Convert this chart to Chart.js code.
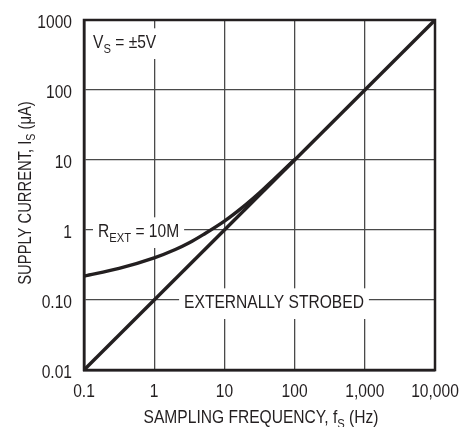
<!DOCTYPE html>
<html>
<head>
<meta charset="utf-8">
<script src="https://cdn.jsdelivr.net/npm/chart.js@4/dist/chart.umd.min.js"></script>
<style>
  html, body { margin: 0; padding: 0; background: #fff; }
  #wrap { width: 463px; height: 427px; }
</style>
</head>
<body>
<div id="wrap"><canvas id="c" width="463" height="427"></canvas></div>
<script>
// ---- data ----
const xTickValues = [0.1, 1, 10, 100, 1000, 10000];
const xTickLabels = ['0.1', '1', '10', '100', '1,000', '10,000'];
const yTickValues = [0.01, 0.1, 1, 10, 100, 1000];
const yTickLabels = ['0.01', '0.10', '1', '10', '100', '1000'];

const rextFreq    = [0.1, 0.316, 1, 2, 3.16, 5, 10, 20, 31.6, 50, 100];
const rextCurrent = [0.22, 0.283, 0.40, 0.527, 0.658, 0.86, 1.34, 2.29, 3.4, 5.24, 10.2];

const strobedFreq    = [0.1, 10000];
const strobedCurrent = [0.01, 1000];

const FONT = "'Liberation Sans', Arial, sans-serif";
const INK = '#231f20';
const SQUEEZE = 0.82;   // condensed look

function pts(xs, ys) { return xs.map((x, i) => ({ x: x, y: ys[i] })); }

// rich text (with subscripts), horizontally condensed
function richWidth(ctx, parts, size) {
  let w = 0;
  parts.forEach(p => {
    ctx.font = (p.sub ? size * 0.72 : size) + 'px ' + FONT;
    w += ctx.measureText(p.t).width;
  });
  return w * SQUEEZE;
}
function drawRich(ctx, parts, x, y, size) {
  ctx.save();
  ctx.translate(x, y);
  ctx.scale(SQUEEZE, 1);
  let cx = 0;
  parts.forEach(p => {
    ctx.font = (p.sub ? size * 0.72 : size) + 'px ' + FONT;
    ctx.fillText(p.t, cx, p.sub ? size * 0.24 : 0);
    cx += ctx.measureText(p.t).width;
  });
  ctx.restore();
}

const labelPlugin = {
  id: 'labels',
  beforeDatasetsDraw(chart) {
    const ctx = chart.ctx;
    const ys = chart.scales.y;
    ctx.save();
    ctx.textBaseline = 'alphabetic';
    ctx.textAlign = 'left';
    const size = 19;
    const cap = size * 0.72;
    const boxes = [
      { parts: [{ t: 'V' }, { t: 'S', sub: true }, { t: ' = \u00b15V' }], x: 93, base: 48 },
      { parts: [{ t: 'R' }, { t: 'EXT', sub: true }, { t: ' = 10M' }], x: 98, yv: 1, off: 7 },
      { parts: [{ t: 'EXTERNALLY STROBED' }], cx: 274, yv: 0.1, off: 8 }
    ];
    boxes.forEach(b => {
      const w = richWidth(ctx, b.parts, size);
      let x = b.x;
      if (b.cx !== undefined) x = b.cx - w / 2;
      let base = b.base;
      if (b.yv !== undefined) base = ys.getPixelForValue(b.yv) + b.off;
      ctx.fillStyle = '#fff';
      ctx.fillRect(x - 5, base - cap - 6, w + 10, cap + 17);
      ctx.fillStyle = INK;
      drawRich(ctx, b.parts, x, base, size);
    });
    ctx.restore();
  },
  afterDraw(chart) {
    const ctx = chart.ctx;
    const a = chart.chartArea;
    const xs = chart.scales.x, ys = chart.scales.y;
    ctx.save();
    ctx.fillStyle = INK;
    ctx.textBaseline = 'alphabetic';
    const tsize = 19;
    // x tick labels
    xs.ticks.forEach((t) => {
      const lbl = xTickLabels[xTickValues.indexOf(t.value)];
      if (lbl === undefined) return;
      const p = [{ t: lbl }];
      const w = richWidth(ctx, p, tsize);
      drawRich(ctx, p, xs.getPixelForValue(t.value) - w / 2, 397, tsize);
    });
    // y tick labels
    ys.ticks.forEach((t) => {
      const lbl = yTickLabels[yTickValues.indexOf(t.value)];
      if (lbl === undefined) return;
      const p = [{ t: lbl }];
      const w = richWidth(ctx, p, tsize);
      drawRich(ctx, p, 72 - w, ys.getPixelForValue(t.value) + 8, tsize);
    });
    // x title
    const xp = [{ t: 'SAMPLING FREQUENCY, f' }, { t: 'S', sub: true }, { t: ' (Hz)' }];
    const xw = richWidth(ctx, xp, 19);
    drawRich(ctx, xp, 261 - xw / 2, 423, 19);
    // y title
    const yp = [{ t: 'SUPPLY CURRENT, I' }, { t: 'S', sub: true }, { t: ' (\u03bcA)' }];
    const yw = richWidth(ctx, yp, 18);
    ctx.translate(31, (a.top + a.bottom) / 2 - 2);
    ctx.rotate(-Math.PI / 2);
    drawRich(ctx, yp, -yw / 2, 0, 18);
    ctx.restore();
  }
};

new Chart(document.getElementById('c'), {
  type: 'scatter',
  data: {
    datasets: [
      {
        label: 'R_EXT = 10M',
        data: pts(rextFreq, rextCurrent),
        showLine: true,
        borderColor: INK,
        borderWidth: 3.4,
        pointRadius: 0,
        cubicInterpolationMode: 'monotone',
        fill: false
      },
      {
        label: 'Externally strobed',
        data: pts(strobedFreq, strobedCurrent),
        showLine: true,
        borderColor: INK,
        borderWidth: 3.4,
        pointRadius: 0,
        fill: false
      }
    ]
  },
  options: {
    responsive: false,
    animation: false,
    devicePixelRatio: 1,
    layout: { padding: { top: 20, right: 28, left: 0, bottom: 0 } },
    plugins: { legend: { display: false }, tooltip: { enabled: false } },
    scales: {
      x: {
        type: 'logarithmic',
        min: 0.1, max: 10000,
        afterBuildTicks(s) { s.ticks = xTickValues.map(v => ({ value: v })); },
        afterFit(s) { s.height = 57; },
        ticks: {
          display: false, autoSkip: false,
          callback(v) { const i = xTickValues.indexOf(v); return i >= 0 ? xTickLabels[i] : ''; }
        },
        grid: { color: '#4a4a4a', lineWidth: 1.3, drawTicks: false },
        border: { color: INK, width: 2.5 }
      },
      y: {
        type: 'logarithmic',
        min: 0.01, max: 1000,
        afterBuildTicks(s) { s.ticks = yTickValues.map(v => ({ value: v })); },
        afterFit(s) { s.width = 84; },
        ticks: {
          display: false, autoSkip: false,
          callback(v) { const i = yTickValues.indexOf(v); return i >= 0 ? yTickLabels[i] : ''; }
        },
        grid: { color: '#4a4a4a', lineWidth: 1.3, drawTicks: false },
        border: { color: INK, width: 2.5 }
      }
    }
  },
  plugins: [labelPlugin, {
    id: 'frame',
    afterDatasetsDraw(chart) {
      const a = chart.chartArea, ctx = chart.ctx;
      ctx.save();
      ctx.strokeStyle = INK; ctx.lineWidth = 2.5;
      ctx.strokeRect(a.left, a.top, a.right - a.left, a.bottom - a.top);
      ctx.restore();
    }
  }]
});
</script>
</body>
</html>
